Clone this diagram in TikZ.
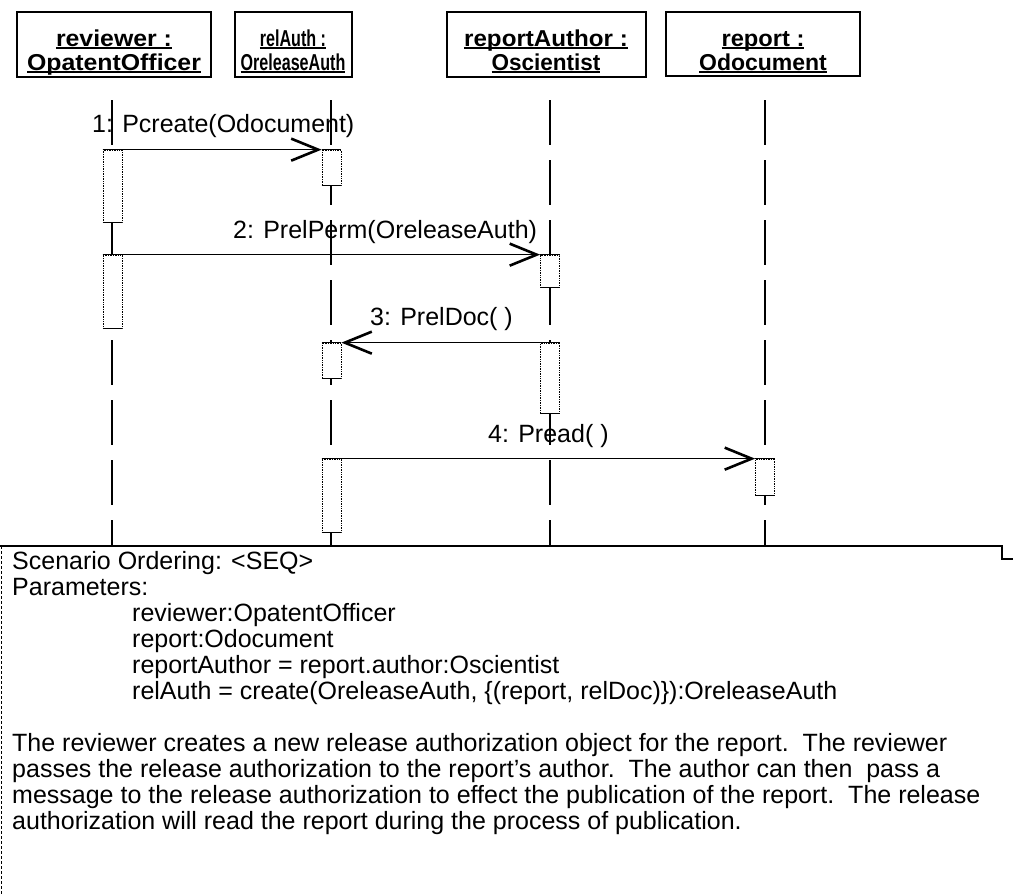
\documentclass[tikz,border=0pt]{standalone}
\usepackage{fontspec}
\usepackage{graphicx}
\setmainfont{Liberation Sans}
\usetikzlibrary{arrows.meta}
% underlined header text with a heavy rule
\newcommand{\hdul}[1]{\sbox0{#1}\rlap{\rule[-3pt]{\wd0}{1.7pt}}\usebox0}
\begin{document}
\begin{tikzpicture}[x=1pt,y=-1pt,
  objbox/.style={draw, line width=1.1pt, inner sep=0pt},
  hdtext/.style={anchor=base, inner sep=0pt, font=\bfseries\fontsize{23}{23}\selectfont},
  lifeline/.style={line width=1.4pt, dash pattern=on 45pt off 15pt},
  actbox/.style={draw, densely dotted, line width=0.7pt, fill=white, inner sep=0pt, minimum width=19pt},
  actedge/.style={line width=1.3pt},
  msg/.style={line width=1.3pt, -{Straight Barb[length=27pt,width=22pt,line width=2.6pt]}},
  msglabel/.style={anchor=base west, inner sep=0pt, font=\fontsize{25}{26}\selectfont},
  notetext/.style={anchor=base west, inner sep=0pt, font=\fontsize{25}{26}\selectfont},
  noteedge/.style={line width=1.2pt},
]
\useasboundingbox[fill=white] (0,0) rectangle (1013,895);

% object headers
\node[objbox, minimum width=194pt, minimum height=65pt] (H1) at (114,44.5) {};
\node[objbox, minimum width=117pt, minimum height=65pt] (H2) at (293.5,44.5) {};
\node[objbox, minimum width=199pt, minimum height=65pt] (H3) at (546.5,44.5) {};
\node[objbox, minimum width=194pt, minimum height=64pt] (H4) at (763,44) {};
\node[hdtext] (H1a) at (114,46) {\scalebox{1.08}[1]{\hdul{reviewer :}}};
\node[hdtext] (H1b) at (114,70) {\scalebox{1.08}[1]{\hdul{OpatentOfficer}}};
\node[hdtext] (H2a) at (293,46) {\scalebox{0.7}[1]{\hdul{relAuth :}}};
\node[hdtext] (H2b) at (293,70) {\scalebox{0.7}[1]{\hdul{OreleaseAuth}}};
\node[hdtext] (H3a) at (546,46) {\scalebox{1.05}[1]{\hdul{reportAuthor :}}};
\node[hdtext] (H3b) at (546,70) {\scalebox{0.98}[1]{\hdul{Oscientist}}};
\node[hdtext] (H4a) at (763,46) {\scalebox{1.03}[1]{\hdul{report :}}};
\node[hdtext] (H4b) at (763,70) {\hdul{Odocument}};

% lifelines, down to the note
\coordinate (rvT) at (112,100);  \coordinate (rvB) at (112,546);
\coordinate (raT) at (331,100);  \coordinate (raB) at (331,546);
\coordinate (auT) at (550,100);  \coordinate (auB) at (550,546);
\coordinate (doT) at (765,100);  \coordinate (doB) at (765,546);
\draw[lifeline] (rvT) -- (rvB);
\draw[lifeline] (raT) -- (raB);
\draw[lifeline] (auT) -- (auB);
\draw[lifeline] (doT) -- (doB);

% activation bars
\node[actbox, minimum height=72pt] (R1) at (112.5,186) {};
\node[actbox, minimum height=73pt] (R2) at (112.5,291.5) {};
\node[actbox, minimum height=35pt] (A1) at (331.5,167.5) {};
\node[actbox, minimum height=35pt] (A2) at (331.5,360.5) {};
\node[actbox, minimum height=73pt] (A3) at (331.5,495.5) {};
\node[actbox, minimum height=32pt] (P1) at (550,271) {};
\node[actbox, minimum height=70pt] (P2) at (550,378) {};
\node[actbox, minimum height=36pt] (D1) at (765,477) {};
\foreach \b in {R1,R2,A1,A2,A3,P1,P2,D1}
  \draw[actedge] (\b.north west) -- (\b.north east) (\b.south west) -- (\b.south east);

% messages
\draw[msg] (R1.north west) -- (A1.north west);
\draw[msg] (R2.north west) -- (P1.north west);
\draw[msg] (P2.north east) -- (A2.north east);
\draw[msg] (A3.north west) -- (D1.north west);
\node[msglabel] (m1) at (92,132) {1: Pcreate(Odocument)};
\node[msglabel] (m2) at (233,238) {2: PrelPerm(OreleaseAuth)};
\node[msglabel] (m3) at (370,325) {3: PrelDoc( )};
\node[msglabel] (m4) at (488,442) {4: Pread( )};

% scenario note
\draw[noteedge] (0,546) -- (1002,546) -- (1002,559) -- (1013,559);
\draw[line width=0.8pt, densely dashed] (1,546) -- (1,895);
\node[notetext] (t1) at (12,569) {Scenario Ordering: <SEQ>};
\node[notetext] (t2) at (12,595) {Parameters:};
\node[notetext] (t3) at (132,621) {reviewer:OpatentOfficer};
\node[notetext] (t4) at (132,647) {report:Odocument};
\node[notetext] (t5) at (132,673) {reportAuthor = report.author:Oscientist};
\node[notetext] (t6) at (132,699) {relAuth = create(OreleaseAuth, \{(report, relDoc)\}):OreleaseAuth};
\node[notetext] (t7) at (12,751) {The reviewer creates a new release authorization object for the report.\ \ The reviewer};
\node[notetext] (t8) at (12,777) {passes the release authorization to the report's author.\ \ The author can then\ \ pass a};
\node[notetext] (t9) at (12,803) {message to the release authorization to effect the publication of the report.\ \ The release};
\node[notetext] (t10) at (12,829) {authorization will read the report during the process of publication.};
\end{tikzpicture}
\end{document}
